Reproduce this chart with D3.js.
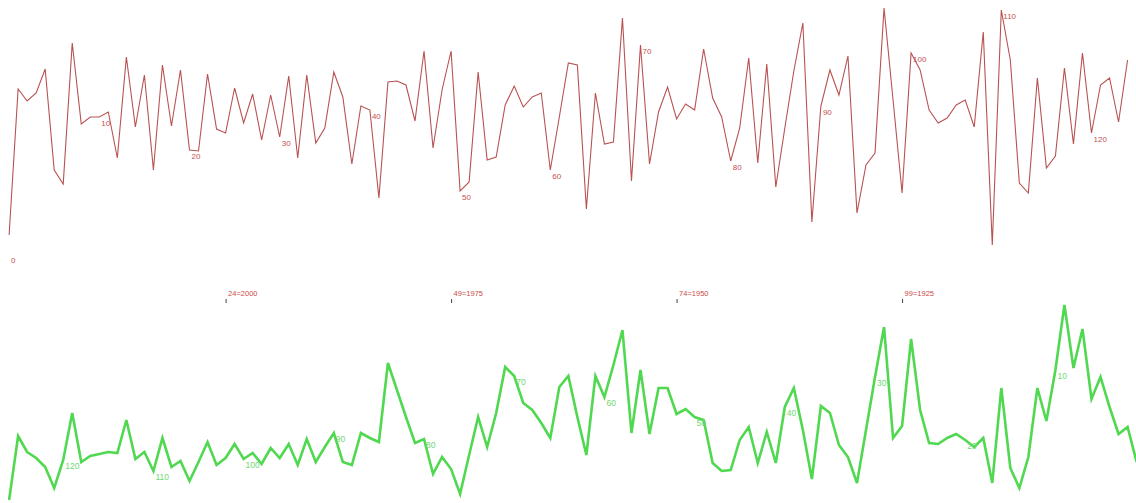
<!DOCTYPE html>
<html>
<head>
<meta charset="utf-8">
<script src="https://cdn.jsdelivr.net/npm/d3@7/dist/d3.min.js"></script>
<style>
  html, body { margin: 0; padding: 0; background: #fff; }
  svg { display: block; }
  text { font-family: "Liberation Sans", Arial, sans-serif; }
</style>
</head>
<body>
<svg id="chart" width="1136" height="503"></svg>
<script>
// Top (red) series, index 0..124
const redValues = [
  15,161,149,157,181,80,66,207,126,133,
  133,138,92,193,123,175,80,185,124,180,
  100,99,176,121,117,162,127,156,110,155,
  113,174,92,175,107,122,178,153,86,144,
  140,52,168,169,165,129,199,102,160,199,
  59,68,178,90,93,145,164,143,153,157,
  80,133,187,185,41,157,106,108,232,69,
  205,86,138,163,131,146,140,201,152,133,
  89,122,192,87,186,63,122,179,227,28,
  144,180,155,194,37,85,97,242,150,57,
  197,180,140,127,132,145,150,123,218,5,
  240,190,67,57,172,82,94,182,106,197,
  117,165,172,128,190
];
// Bottom (green) series, in left-to-right display order; label number = 126 - position
const greenValues = [
  5,69,53,47,38,17,45,92,43,49,
  51,53,52,85,46,53,34,67,38,44,
  24,43,63,40,47,61,46,52,41,57,
  47,61,40,66,43,58,72,43,40,72,
  67,63,142,115,88,62,66,31,48,36,
  11,50,88,58,92,138,129,102,95,82,
  67,118,129,88,50,129,108,140,175,72,
  135,71,117,117,91,96,88,85,42,34,
  35,65,78,42,73,42,98,117,75,26,
  99,92,60,48,22,75,128,178,67,79,
  166,95,62,61,67,71,65,58,67,22,
  117,37,17,48,117,84,135,200,137,176,
  106,128,98,71,78,43
];
const greenOffset = 126;
// Middle axis ticks
const tickPositions = [24, 49, 74, 99];
const tickLabels = ["24=2000", "49=1975", "74=1950", "99=1925"];

const svg = d3.select("#chart");

const x = d3.scaleLinear().domain([0, 125]).range([9.1, 1136.6]);
const yRed = d3.scaleLinear().domain([0, 250]).range([250, 0]);
const yGreen = d3.scaleLinear().domain([0, 220]).range([505, 285]);

// Red line
const redLine = d3.line().x((d, i) => x(i)).y(d => yRed(d));
svg.append("path")
  .datum(redValues)
  .attr("d", redLine)
  .attr("fill", "none")
  .attr("stroke", "#b95252")
  .attr("stroke-width", 1.1)
  .attr("stroke-linejoin", "miter");

svg.append("g").selectAll("text")
  .data(redValues.map((v, i) => ({v, i})).filter(d => d.i % 10 === 0))
  .join("text")
  .attr("x", d => x(d.i) + 2)
  .attr("y", d => d.i === 0 ? yRed(d.v) + 28 : yRed(d.v) + 9)
  .attr("font-size", 8)
  .attr("fill", "#c45050")
  .text(d => d.i);

// Middle axis
const axis = d3.axisTop(x)
  .tickValues(tickPositions)
  .tickSize(4)
  .tickPadding(3)
  .tickFormat((d, i) => tickLabels[i]);
const axG = svg.append("g").attr("transform", "translate(0,303)").call(axis);
axG.select(".domain").remove();
axG.selectAll(".tick line").attr("stroke", "#445");
axG.selectAll(".tick text")
  .attr("text-anchor", "start")
  .attr("dx", 2)
  .attr("font-size", 7.5)
  .attr("font-family", "Liberation Sans, Arial, sans-serif")
  .attr("fill", "#cc4a4a");

// Green line
const greenLine = d3.line().x((d, i) => x(i)).y(d => yGreen(d));
svg.append("path")
  .datum(greenValues)
  .attr("d", greenLine)
  .attr("fill", "none")
  .attr("stroke", "#50d850")
  .attr("stroke-width", 2.6)
  .attr("stroke-linejoin", "miter");

svg.append("g").selectAll("text")
  .data(greenValues.map((v, i) => ({v, i, n: greenOffset - i})).filter(d => d.n % 10 === 0 && d.n > 0))
  .join("text")
  .attr("x", d => x(d.i) + 2)
  .attr("y", d => yGreen(d.v) + 9)
  .attr("font-size", 8.5)
  .attr("fill", "#72d872")
  .text(d => d.n);
</script>
</body>
</html>
